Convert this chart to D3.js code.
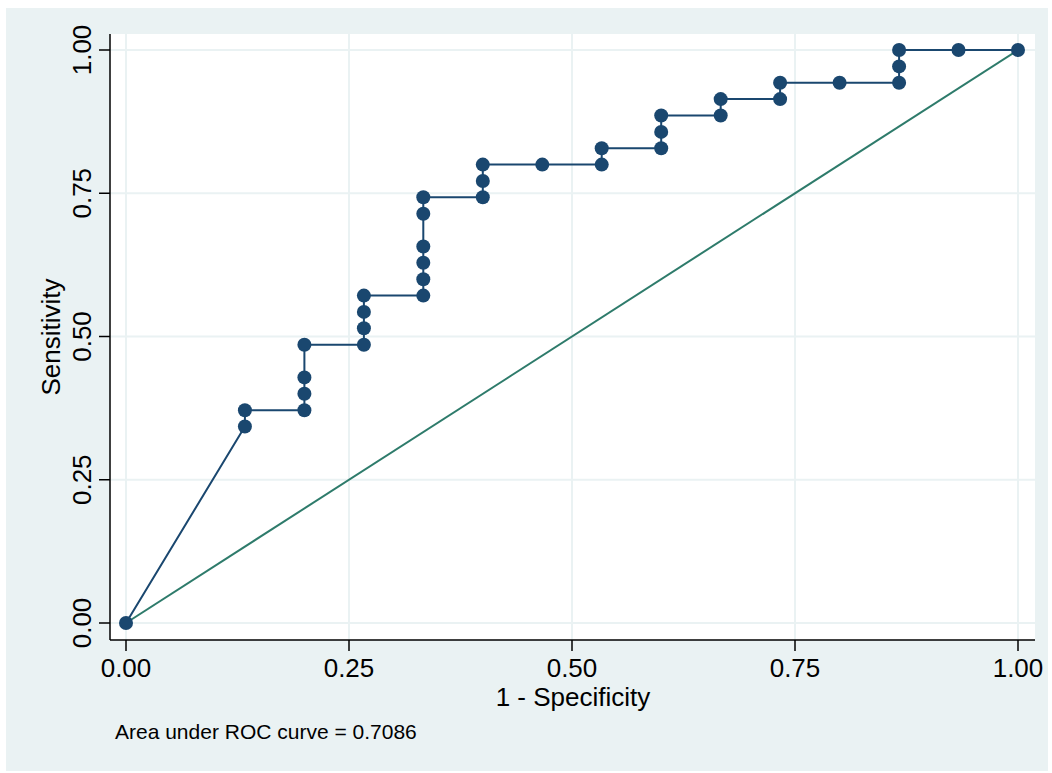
<!DOCTYPE html>
<html><head><meta charset="utf-8">
<script src="https://cdn.jsdelivr.net/npm/d3@7"></script>
<style>body{margin:0;background:#fff}svg{display:block;font-family:"Liberation Sans",Arial,sans-serif}</style>
</head><body><svg id="c" width="1052" height="773"></svg>
<script>
// ROC points: 1 - specificity, sensitivity
const fpr = [0,0.1333,0.1333,0.2,0.2,0.2,0.2,0.2667,0.2667,0.2667,0.2667,0.3333,0.3333,0.3333,0.3333,0.3333,0.3333,0.4,0.4,0.4,0.4667,0.5333,0.5333,0.6,0.6,0.6,0.6667,0.6667,0.7333,0.7333,0.8,0.8667,0.8667,0.8667,0.9333,1]
const tpr = [0,0.3429,0.3714,0.3714,0.4,0.4286,0.4857,0.4857,0.5143,0.5429,0.5714,0.5714,0.6,0.6286,0.6571,0.7143,0.7429,0.7429,0.7714,0.8,0.8,0.8,0.8286,0.8286,0.8571,0.8857,0.8857,0.9143,0.9143,0.9429,0.9429,0.9429,0.9714,1,1,1]
const ticks = [0,0.25,0.5,0.75,1]

const svg = d3.select('#c')
svg.append('rect').attr('x',6).attr('y',8).attr('width',1042).attr('height',763).attr('fill','#eaf2f3')
const L=110, R=1035, T=34, B=640
svg.append('rect').attr('x',L).attr('y',T).attr('width',R-L).attr('height',B-T).attr('fill','#fff')

const x = d3.scaleLinear().domain([0,1]).range([126,1018])
const y = d3.scaleLinear().domain([0,1]).range([623,50])

// grid
svg.selectAll('.gx').data(ticks).join('line')
  .attr('x1',d=>x(d)).attr('x2',d=>x(d)).attr('y1',T).attr('y2',B)
  .attr('stroke','#eaf2f3').attr('stroke-width',2)
svg.selectAll('.gy').data(ticks).join('line')
  .attr('x1',L).attr('x2',R).attr('y1',d=>y(d)).attr('y2',d=>y(d))
  .attr('stroke','#eaf2f3').attr('stroke-width',2)

// axes
svg.append('line').attr('x1',L).attr('x2',L).attr('y1',T).attr('y2',B).attr('stroke','#000').attr('stroke-width',1.5)
svg.append('line').attr('x1',L).attr('x2',R).attr('y1',B).attr('y2',B).attr('stroke','#000').attr('stroke-width',1.5)
svg.selectAll('.tx').data(ticks).join('line')
  .attr('x1',d=>x(d)).attr('x2',d=>x(d)).attr('y1',B).attr('y2',B+11).attr('stroke','#000').attr('stroke-width',1.5)
svg.selectAll('.ty').data(ticks).join('line')
  .attr('x1',L-11).attr('x2',L).attr('y1',d=>y(d)).attr('y2',d=>y(d)).attr('stroke','#000').attr('stroke-width',1.5)
svg.selectAll('.lx').data(ticks).join('text')
  .attr('x',d=>x(d)).attr('y',677).attr('text-anchor','middle').attr('font-size',26).text(d3.format('.2f'))
svg.selectAll('.ly').data(ticks).join('text')
  .attr('transform',d=>`translate(91,${y(d)}) rotate(-90)`).attr('text-anchor','middle').attr('font-size',26).text(d3.format('.2f'))
svg.append('text').attr('x',573).attr('y',706).attr('text-anchor','middle').attr('font-size',26).text('1 - Specificity')
svg.append('text').attr('transform',`translate(60,337) rotate(-90)`).attr('text-anchor','middle').attr('font-size',26).text('Sensitivity')
svg.append('text').attr('x',115).attr('y',739).attr('font-size',21).text('Area under ROC curve = 0.7086')

// reference line
svg.append('line').attr('x1',x(0)).attr('y1',y(0)).attr('x2',x(1)).attr('y2',y(1)).attr('stroke','#2e7b6b').attr('stroke-width',2)

const pts = fpr.map((v,i)=>[v,tpr[i]])
svg.append('path').attr('d',d3.line().x(d=>x(d[0])).y(d=>y(d[1]))(pts))
  .attr('fill','none').attr('stroke','#1a476f').attr('stroke-width',2)
svg.selectAll('.pt').data(pts).join('circle')
  .attr('cx',d=>x(d[0])).attr('cy',d=>y(d[1])).attr('r',7).attr('fill','#1a476f')
</script></body></html>
